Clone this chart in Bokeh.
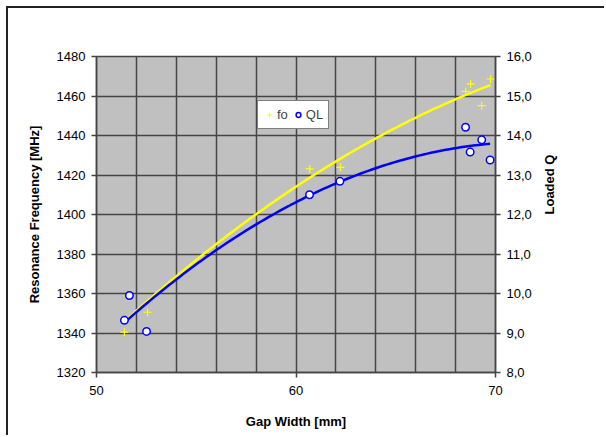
import numpy as np
from bokeh.plotting import figure
from bokeh.models import (Range1d, LinearAxis, FixedTicker, Legend, LegendItem)
from bokeh.embed import file_html
from bokeh.resources import INLINE

# ---- data ----
gap_fo = [51.40, 51.65, 52.56, 60.69, 62.23, 68.50, 68.75, 69.31, 69.75]
fo_mhz = [1340.4, 1358.5, 1350.5, 1423.1, 1423.9, 1462.3, 1466.1, 1455.1, 1468.6]

gap_ql = [51.40, 51.65, 52.51, 60.68, 62.20, 68.50, 68.73, 69.31, 69.73]
ql_val = [9.32, 9.95, 9.04, 12.50, 12.84, 14.21, 13.58, 13.89, 13.38]

x_ticks = [50, 60, 70]
x_grid = [50, 52, 54, 56, 58, 60, 62, 64, 66, 68, 70]
left_ticks = [1320, 1340, 1360, 1380, 1400, 1420, 1440, 1460, 1480]
right_ticks = [8, 9, 10, 11, 12, 13, 14, 15, 16]
right_labels = ["8,0", "9,0", "10,0", "11,0", "12,0", "13,0", "14,0", "15,0", "16,0"]

FONT = "Liberation Sans"
YELLOW = "#FFFF00"
BLUE = "#0000FF"
GRID = "#454545"

p = figure(width=598, height=429, output_backend="svg", toolbar_location=None,
           x_range=Range1d(50, 70), y_range=Range1d(1320, 1480),
           min_border_left=88, min_border_right=111, min_border_top=48, min_border_bottom=65,
           background_fill_color="#C0C0C0", border_fill_color="white",
           outline_line_color=GRID, outline_line_width=1.5)
p.styles = {"margin-left": "6px", "margin-top": "6px",
            "border-left": "2px solid #222222", "border-top": "2px solid #222222"}

p.extra_y_ranges = {"q": Range1d(8, 16)}

def style_axis(ax):
    ax.axis_line_color = GRID
    ax.axis_line_width = 1.5
    ax.major_tick_line_color = GRID
    ax.major_tick_line_width = 1.5
    ax.major_tick_in = 0
    ax.major_tick_out = 5
    ax.minor_tick_line_color = None
    ax.major_label_text_font = FONT
    ax.major_label_text_font_size = "13px"
    ax.major_label_text_color = "black"
    ax.axis_label_text_font = FONT
    ax.axis_label_text_font_size = "13px"
    ax.axis_label_text_font_style = "bold"
    ax.axis_label_text_color = "black"

xa = p.xaxis[0]
style_axis(xa)
xa.ticker = FixedTicker(ticks=x_ticks)
xa.axis_label = "Gap Width [mm]"
xa.major_label_standoff = 8
xa.axis_label_standoff = 16

ya = p.yaxis[0]
style_axis(ya)
ya.ticker = FixedTicker(ticks=left_ticks)
ya.axis_label = "Resonance Frequency [MHz]"
ya.major_label_standoff = 6
ya.axis_label_standoff = 12

ra = LinearAxis(y_range_name="q", axis_label="Loaded Q")
style_axis(ra)
ra.ticker = FixedTicker(ticks=right_ticks)
ra.major_label_overrides = {t: l for t, l in zip(right_ticks, right_labels)}
ra.major_label_standoff = 6
ra.axis_label_standoff = 15
ra.axis_label_orientation = np.pi / 2
p.add_layout(ra, "right")

p.xgrid.ticker = FixedTicker(ticks=x_grid)
p.xgrid.grid_line_color = GRID
p.xgrid.grid_line_width = 1.5
p.ygrid.ticker = FixedTicker(ticks=left_ticks)
p.ygrid.grid_line_color = GRID
p.ygrid.grid_line_width = 1.5

# polynomial trendlines (order 2), as in the original spreadsheet chart
cf = np.polyfit(gap_fo, fo_mhz, 2)
xf = np.linspace(min(gap_fo), max(gap_fo), 100)
p.line(xf, np.polyval(cf, xf), line_color=YELLOW, line_width=2.5)

cq = np.polyfit(gap_ql, ql_val, 2)
xq = np.linspace(min(gap_ql), max(gap_ql), 100)
p.line(xq, np.polyval(cq, xq), line_color=BLUE, line_width=2.5, y_range_name="q")

r_fo = p.scatter(gap_fo, fo_mhz, marker="cross", size=8, line_color=YELLOW, line_width=1.2)
r_ql = p.scatter(gap_ql, ql_val, marker="circle", size=7.5, line_color=BLUE, fill_color="white",
                 line_width=1.5, y_range_name="q")

legend = Legend(items=[LegendItem(label="fo", renderers=[r_fo]),
                       LegendItem(label="QL", renderers=[r_ql])],
                orientation="horizontal", location=(161, 243),
                padding=5, spacing=4, margin=0, glyph_width=12, glyph_height=17,
                label_height=17, label_width=0, label_standoff=2,
                label_text_font=FONT, label_text_font_size="13px",
                border_line_color="black", border_line_width=1,
                background_fill_color="white", background_fill_alpha=1.0)
p.add_layout(legend)

open("out.html", "w").write(file_html(p, INLINE))
